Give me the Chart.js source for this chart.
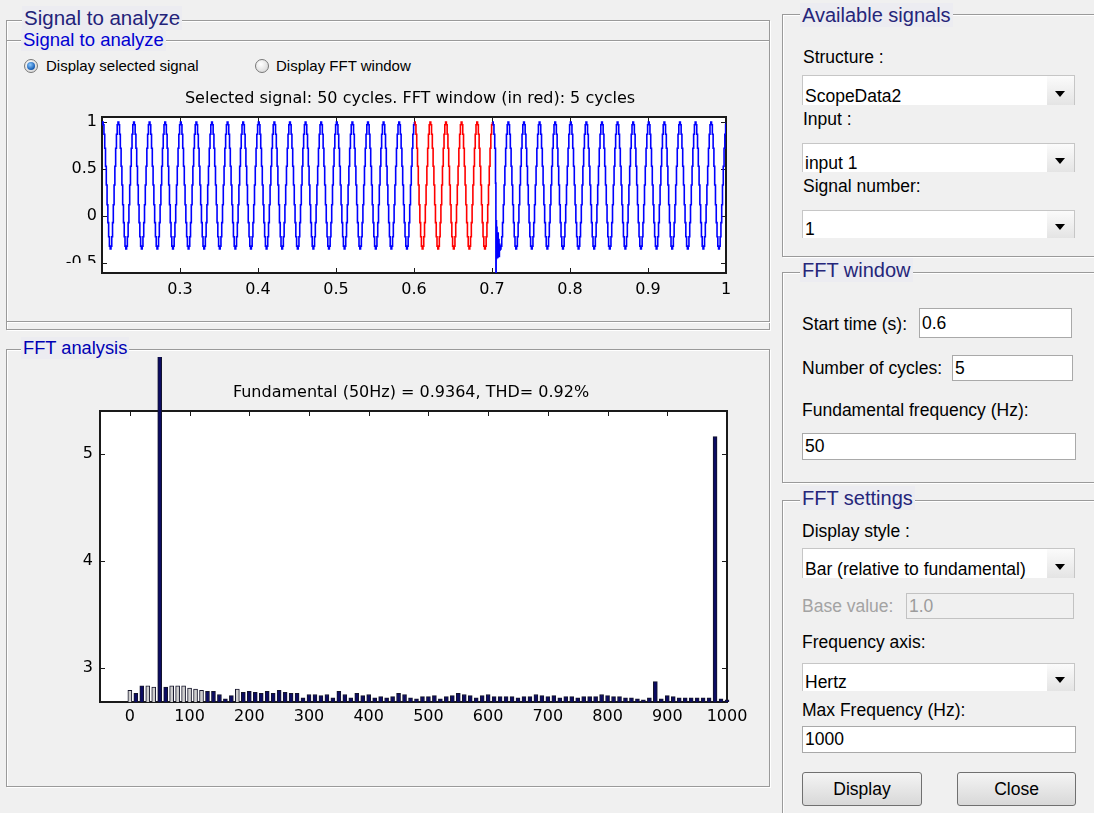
<!DOCTYPE html>
<html>
<head>
<meta charset="utf-8">
<title>powergui FFT Analysis Tool</title>
<script src="https://cdn.jsdelivr.net/npm/chart.js@4.4.1/dist/chart.umd.min.js"></script>
<style>
  html, body { margin: 0; padding: 0; }
  body {
    width: 1094px; height: 813px; overflow: hidden; position: relative;
    background: #f0f0f0; color: #000;
    font-family: "Liberation Sans", Arial, sans-serif; font-size: 17.5px;
  }
  .grp { position: absolute; border: 1px solid #9a9a9a; box-shadow: inset 1px 1px 0 #fff, 1px 1px 0 #fff; }
  .gt { position: absolute; padding: 0 2px; background: #ececf1; white-space: nowrap; color: #26267a; font-size: 20px; height: 24px; line-height: 24px; }
  .lbl { position: absolute; white-space: nowrap; height: 20px; line-height: 20px; }
  .dd { position: absolute; background: #fff; border: 1px solid #c6c6c6; border-bottom: none; box-sizing: border-box; }
  .dd span { position: absolute; left: 2px; bottom: -1px; line-height: 20px; white-space: nowrap; }
  .dd i { position: absolute; right: 0; top: 0; bottom: 0; width: 27px; background: linear-gradient(#fbfbfb, #e4e4e4); }
  .dd i::after { content: ""; position: absolute; left: 8px; bottom: 8px; border-left: 5px solid transparent; border-right: 5px solid transparent; border-top: 6px solid #000; }
  .inp { position: absolute; background: #fff; border: 1px solid #a9a9a9; box-sizing: border-box; padding-left: 2px; white-space: nowrap; }
  .inp.off { background: #f0f0f0; border-color: #c2c2c2; color: #9c9c9c; }
  .btn { position: absolute; border: 1px solid #707070; border-radius: 3px; box-sizing: border-box; text-align: center; background: linear-gradient(#f4f4f4, #e6e6e6 50%, #d8d8d8); }
  .radio { position: absolute; width: 12px; height: 12px; border-radius: 50%; border: 1px solid #787878; background: radial-gradient(circle at 40% 35%, #fff, #d0d0d0); }
  .radio.on::after { content: ""; position: absolute; left: 2px; top: 2px; width: 8px; height: 8px; border-radius: 50%; background: radial-gradient(circle at 40% 35%, #8ccaff, #1c62b8 65%, #0b3b78); }
  canvas { position: absolute; }
</style>
</head>
<body>

<!-- signal panel -->
<div class="grp" style="left:6px;top:20px;width:762px;height:308px"></div>
<div class="gt" style="left:22px;top:6px;font-size:20.5px;color:#23237a">Signal to analyze</div>
<div class="grp" style="left:6px;top:40px;width:762px;height:280px"></div>
<div class="gt" style="left:21px;top:29px;height:22px;line-height:22px;font-size:18.5px;color:#0000d2">Signal to analyze</div>
<div class="radio on" style="left:24px;top:59px"></div>
<div class="lbl" style="left:46px;top:56px;font-size:15px">Display selected signal</div>
<div class="radio" style="left:255px;top:59px"></div>
<div class="lbl" style="left:276px;top:56px;font-size:15px">Display FFT window</div>
<canvas id="signalChart" width="720" height="215" style="left:50px;top:85px"></canvas>

<!-- FFT panel -->
<div class="grp" style="left:6px;top:349px;width:762px;height:436px"></div>
<div class="gt" style="left:21px;top:337px;height:22px;line-height:22px;font-size:18.3px;color:#0000b4">FFT analysis</div>
<canvas id="fftChart" width="742" height="378" style="left:40px;top:357px"></canvas>

<!-- available signals -->
<div class="grp" style="left:782px;top:14px;width:330px;height:241px"></div>
<div class="gt" style="left:800px;top:3px">Available signals</div>
<div class="lbl" style="left:803px;top:47px">Structure :</div>
<div class="dd" style="left:802px;top:75px;width:273px;height:30px"><span>ScopeData2</span><i></i></div>
<div class="lbl" style="left:803px;top:109px">Input :</div>
<div class="dd" style="left:802px;top:143px;width:273px;height:29px"><span>input 1</span><i></i></div>
<div class="lbl" style="left:803px;top:176px">Signal number:</div>
<div class="dd" style="left:802px;top:210px;width:273px;height:28px"><span>1</span><i></i></div>

<!-- FFT window -->
<div class="grp" style="left:782px;top:272px;width:330px;height:209px"></div>
<div class="gt" style="left:800px;top:258px">FFT window</div>
<div class="lbl" style="left:802px;top:314px">Start time (s):</div>
<div class="inp" style="left:919px;top:308px;width:153px;height:30px;line-height:28px">0.6</div>
<div class="lbl" style="left:802px;top:358px">Number of cycles:</div>
<div class="inp" style="left:952px;top:355px;width:121px;height:26px;line-height:24px">5</div>
<div class="lbl" style="left:802px;top:400px">Fundamental frequency (Hz):</div>
<div class="inp" style="left:802px;top:433px;width:274px;height:27px;line-height:25px">50</div>

<!-- FFT settings -->
<div class="grp" style="left:782px;top:500px;width:330px;height:330px"></div>
<div class="gt" style="left:800px;top:486px">FFT settings</div>
<div class="lbl" style="left:802px;top:521px">Display style :</div>
<div class="dd" style="left:802px;top:548px;width:273px;height:30px"><span>Bar (relative to fundamental)</span><i></i></div>
<div class="lbl" style="left:802px;top:596px;color:#a3a3a3">Base value:</div>
<div class="inp off" style="left:906px;top:593px;width:168px;height:26px;line-height:24px">1.0</div>
<div class="lbl" style="left:802px;top:632px">Frequency axis:</div>
<div class="dd" style="left:802px;top:663px;width:273px;height:28px"><span>Hertz</span><i></i></div>
<div class="lbl" style="left:802px;top:700px">Max Frequency (Hz):</div>
<div class="inp" style="left:802px;top:726px;width:274px;height:27px;line-height:25px">1000</div>
<div class="btn" style="left:802px;top:772px;width:120px;height:34px;line-height:32px">Display</div>
<div class="btn" style="left:957px;top:772px;width:119px;height:34px;line-height:32px">Close</div>

<script>
// scope trace: 50 Hz stepped waveform, 1 ms hold per sample
const timeTicks = [0.3, 0.4, 0.5, 0.6, 0.7, 0.8, 0.9, 1];
const ampTicks = [-0.5, 0, 0.5, 1];
const cycleLevels = [1.0, 0.97, 0.87, 0.72, 0.53, 0.33, 0.12, -0.07, -0.22, -0.32,
                     -0.35, -0.32, -0.22, -0.07, 0.12, 0.33, 0.53, 0.72, 0.87, 0.97];
const firstCrest = 0.1805;   // s
const cyclePeriod = 0.02;    // s
const stepTime = 0.001;      // s
const cycleCount = 42;
const windowStart = 0.6;
const windowEnd = 0.7;
// disturbance just after the FFT window
const transientTimes = [0.7045, 0.7050, 0.7053, 0.7057, 0.7060, 0.7064, 0.7068, 0.7072,
                        0.7076, 0.7080, 0.7085, 0.7090, 0.7095, 0.7100, 0.7105];
const transientValues = [0.35, -0.62, -0.05, -0.45, -0.12, -0.42, -0.2, -0.44,
                         -0.18, -0.4, -0.25, -0.43, -0.3, -0.36, -0.35];

// harmonic spectrum, 10 Hz resolution (5-cycle window)
const harmonicFreqs = [0, 10, 20, 30, 40, 50, 60, 70, 80, 90,
  100, 110, 120, 130, 140, 150, 160, 170, 180, 190,
  200, 210, 220, 230, 240, 250, 260, 270, 280, 290,
  300, 310, 320, 330, 340, 350, 360, 370, 380, 390,
  400, 410, 420, 430, 440, 450, 460, 470, 480, 490,
  500, 510, 520, 530, 540, 550, 560, 570, 580, 590,
  600, 610, 620, 630, 640, 650, 660, 670, 680, 690,
  700, 710, 720, 730, 740, 750, 760, 770, 780, 790,
  800, 810, 820, 830, 840, 850, 860, 870, 880, 890,
  900, 910, 920, 930, 940, 950, 960, 970, 980, 990,
  1000];
const harmonicLevels = [2.79, 2.76, 2.83, 2.83, 2.82, 100, 2.82, 2.83, 2.83, 2.83,
  2.81, 2.80, 2.79, 2.78, 2.78, 2.75, 2.71, 2.74, 2.80, 2.77,
  2.78, 2.77, 2.76, 2.78, 2.76, 2.79, 2.77, 2.76, 2.76, 2.72,
  2.75, 2.75, 2.74, 2.75, 2.72, 2.78, 2.75, 2.72, 2.76, 2.74,
  2.75, 2.72, 2.73, 2.72, 2.73, 2.76, 2.75, 2.72, 2.71, 2.73,
  2.73, 2.74, 2.71, 2.73, 2.74, 2.76, 2.75, 2.74, 2.72, 2.74,
  2.75, 2.73, 2.73, 2.73, 2.73, 2.72, 2.73, 2.73, 2.75, 2.74,
  2.73, 2.74, 2.72, 2.73, 2.73, 2.72, 2.73, 2.73, 2.73, 2.75,
  2.74, 2.73, 2.73, 2.72, 2.72, 2.71, 2.70, 2.72, 2.87, 2.71,
  2.74, 2.73, 2.72, 2.72, 2.72, 2.72, 2.72, 2.72, 5.16, 2.71,
  2.70];
const barBase = 2.68;
const freqTicks = [0, 100, 200, 300, 400, 500, 600, 700, 800, 900, 1000];
const levelTicks = [3, 4, 5];
// bars that render pale in the spectrum view
const paleBars = [0, 30, 40, 70, 80, 90, 100, 110, 120, 180];

const plotFont = { family: '"DejaVu Sans", sans-serif', size: 16 };
const bgColor = '#f0f0f0';

// MATLAB-style boxed axes: white area, inward ticks, title text
const matlabAxes = {
  id: 'matlabAxes',
  beforeDraw(chart) {
    const { ctx, chartArea: a } = chart;
    ctx.save();
    ctx.fillStyle = '#fff';
    ctx.fillRect(a.left, a.top, a.right - a.left, a.bottom - a.top);
    ctx.restore();
  },
  beforeDatasetsDraw(chart) {
    const { ctx, chartArea: a, scales: { x, y } } = chart;
    ctx.save();
    ctx.strokeStyle = '#1a1a1a';
    ctx.lineWidth = 1;
    ctx.beginPath();
    x.ticks.forEach(t => {
      const px = Math.round(x.getPixelForValue(t.value)) + 0.5;
      ctx.moveTo(px, a.top); ctx.lineTo(px, a.top + 5);
      ctx.moveTo(px, a.bottom); ctx.lineTo(px, a.bottom - 5);
    });
    y.ticks.forEach(t => {
      const py = Math.round(y.getPixelForValue(t.value)) + 0.5;
      ctx.moveTo(a.left, py); ctx.lineTo(a.left + 5, py);
      ctx.moveTo(a.right, py); ctx.lineTo(a.right - 5, py);
    });
    ctx.stroke();
    ctx.lineWidth = 2;
    ctx.strokeRect(a.left, a.top, a.right - a.left, a.bottom - a.top);
    ctx.restore();
  },
  afterDraw(chart, args, opts) {
    const { ctx, chartArea: a } = chart;
    ctx.save();
    if (opts.hideLabelsBelow) {
      ctx.fillStyle = bgColor;
      ctx.fillRect(0, opts.hideLabelsBelow, a.left - 2, chart.height - opts.hideLabelsBelow);
    }
    ctx.fillStyle = '#000';
    ctx.font = plotFont.size + 'px ' + plotFont.family;
    ctx.textAlign = 'center';
    ctx.textBaseline = 'middle';
    ctx.fillText(opts.text, chart.width / 2, opts.textY);
    ctx.restore();
  }
};

function fixedTicks(values) {
  return scale => { scale.ticks = values.map(v => ({ value: v })); };
}

function axis(min, max, ticks, padding, size, horizontal) {
  return {
    type: 'linear', min, max,
    offset: false,
    afterBuildTicks: fixedTicks(ticks),
    afterFit: s => { if (horizontal) s.height = size; else s.width = size; },
    grid: { display: false, drawTicks: false, offset: false },
    border: { display: false },
    ticks: { padding, autoSkip: false, maxRotation: 0, color: '#000', font: plotFont, callback: v => String(v) }
  };
}

// build the sampled trace
const signalPoints = [];
const tFirst = transientTimes[0], tLast = transientTimes[transientTimes.length - 1];
for (let c = 0; c < cycleCount; c++) {
  cycleLevels.forEach((v, k) => {
    const t = firstCrest + c * cyclePeriod + k * stepTime;
    if (t > tFirst - 1e-6 && t < tLast + 1e-6) return;
    signalPoints.push({ x: t, y: v });
  });
}
transientTimes.forEach((t, i) => signalPoints.push({ x: t, y: transientValues[i] }));
signalPoints.sort((p, q) => p.x - q.x);

const inWindow = t => t >= windowStart - 1e-4 && t < windowEnd - 1e-4;

new Chart(document.getElementById('signalChart'), {
  type: 'line',
  data: {
    datasets: [{
      data: signalPoints,
      borderColor: '#0000ff',
      borderWidth: 1.6,
      pointRadius: 0,
      stepped: true,
      segment: { borderColor: s => inWindow(s.p0.parsed.x) ? '#ff0000' : '#0000ff' }
    }]
  },
  options: {
    responsive: false,
    animation: false,
    events: [],
    layout: { padding: { top: 32, right: 44, left: 0, bottom: 0 } },
    plugins: {
      legend: { display: false },
      tooltip: { enabled: false },
      matlabAxes: { text: 'Selected signal: 50 cycles. FFT window (in red): 5 cycles', textY: 14, hideLabelsBelow: 178 }
    },
    scales: {
      x: axis(0.2, 1.0, timeTicks, 7, 27, true),
      y: axis(-0.606, 1.053, ampTicks, 5, 52, false)
    }
  },
  plugins: [matlabAxes]
});

new Chart(document.getElementById('fftChart'), {
  type: 'bar',
  data: {
    datasets: [{
      data: harmonicFreqs.map((f, i) => ({ x: f, y: [barBase, harmonicLevels[i]] })),
      backgroundColor: c => paleBars.includes(harmonicFreqs[c.dataIndex]) ? '#cfcfcf' : '#0c0c62',
      borderColor: '#14142a',
      borderWidth: 1,
      barThickness: 4,
      clip: false
    }]
  },
  options: {
    responsive: false,
    animation: false,
    events: [],
    layout: { padding: { top: 54, right: 55, left: 0, bottom: 0 } },
    plugins: {
      legend: { display: false },
      tooltip: { enabled: false },
      matlabAxes: { text: 'Fundamental (50Hz) = 0.9364, THD= 0.92%', textY: 36 }
    },
    scales: {
      x: axis(-50, 1000, freqTicks, 5, 33, true),
      y: axis(barBase, 5.40, levelTicks, 7, 60, false)
    }
  },
  plugins: [matlabAxes]
});
</script>
</body>
</html>
